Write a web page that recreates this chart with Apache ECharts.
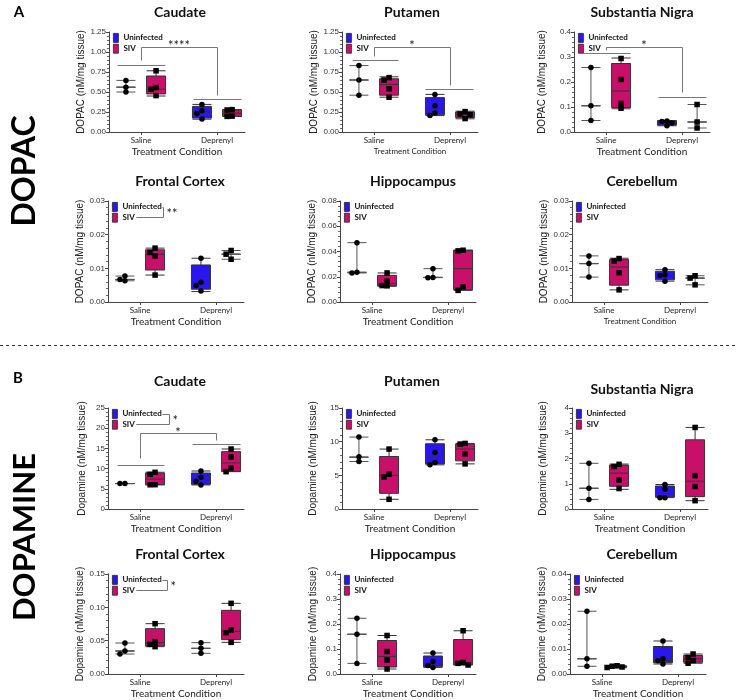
<!DOCTYPE html>
<html><head><meta charset="utf-8">
<script src="https://cdn.jsdelivr.net/npm/echarts@6/dist/echarts.min.js"></script>
<style>html,body{margin:0;padding:0;background:#fff}#c{width:736px;height:700px}</style>
</head><body><div id="c"></div>
<script>
// ---------- categories / labels ----------
const categories = ['Saline', 'Deprenyl'];
const groupNames = ['Uninfected', 'SIV'];
const xAxisTitle = 'Treatment Condition';
const yNameDopac = 'DOPAC (nM/mg tissue)';
const yNameDa = 'Dopamine (nM/mg tissue)';

// ---------- tick labels ----------
const ticksDopacCaud = ['0.00', '0.25', '0.50', '0.75', '1.00', '1.25'];
const ticksDopacSN = ['0.0', '0.1', '0.2', '0.3', '0.4'];
const ticksDopacFC = ['0.00', '0.01', '0.02', '0.03'];
const ticksDopacHip = ['0.00', '0.02', '0.04', '0.06', '0.08'];
const ticksDaCaud = ['0', '5', '10', '15', '20', '25'];
const ticksDaPut = ['0', '5', '10', '15'];
const ticksDaSN = ['0', '1', '2', '3', '4'];
const ticksDaFC = ['0.00', '0.05', '0.10', '0.15'];
const ticksDaHip = ['0.0', '0.1', '0.2', '0.3', '0.4'];
const ticksDaCer = ['0.00', '0.01', '0.02', '0.03', '0.04'];

// ---------- box stats [min, Q1, median, Q3, max] per category (Saline, Deprenyl) and points ----------
// DOPAC Caudate
const dCaudBoxU = [[0.50, 0.56, 0.56, 0.56, 0.645], [0.16, 0.174, 0.25, 0.32, 0.345]];
const dCaudBoxS = [[0.45, 0.476, 0.535, 0.70, 0.765], [0.195, 0.197, 0.236, 0.277, 0.28]];
const dCaudPtsU = [[0.645, 0.56, 0.50], [0.345, 0.265, 0.232, 0.161]];
const dCaudPtsS = [[0.765, 0.555, 0.534, 0.455], [0.28, 0.275, 0.198, 0.195]];
// DOPAC Putamen
const dPutBoxU = [[0.46, 0.65, 0.65, 0.65, 0.83], [0.205, 0.215, 0.285, 0.43, 0.47]];
const dPutBoxS = [[0.435, 0.46, 0.595, 0.665, 0.69], [0.165, 0.18, 0.22, 0.25, 0.26]];
const dPutPtsU = [[0.83, 0.65, 0.46], [0.468, 0.327, 0.236, 0.207]];
const dPutPtsS = [[0.68, 0.65, 0.54, 0.435], [0.255, 0.225, 0.215, 0.168]];
// DOPAC Substantia Nigra
const dSNBoxU = [[0.046, 0.105, 0.105, 0.105, 0.258], [0.025, 0.028, 0.036, 0.045, 0.046]];
const dSNBoxS = [[0.093, 0.098, 0.164, 0.274, 0.296], [0.016, 0.04, 0.04, 0.04, 0.11]];
const dSNPtsU = [[0.258, 0.105, 0.046], [0.044, 0.042, 0.036, 0.025]];
const dSNPtsS = [[0.294, 0.21, 0.114, 0.095], [0.11, 0.04, 0.016]];
// DOPAC Frontal Cortex
const dFCBoxU = [[0.0063, 0.0067, 0.0067, 0.0067, 0.0077], [0.0031, 0.0038, 0.0055, 0.011, 0.013]];
const dFCBoxS = [[0.008, 0.0095, 0.0142, 0.0155, 0.016], [0.0127, 0.0142, 0.0142, 0.0142, 0.0153]];
const dFCPtsU = [[0.0077, 0.0067, 0.0063], [0.013, 0.0059, 0.0049, 0.0033]];
const dFCPtsS = [[0.016, 0.0147, 0.0137, 0.008], [0.0153, 0.0142, 0.0127]];
// DOPAC Hippocampus
const dHipBoxU = [[0.023, 0.0235, 0.0235, 0.0235, 0.047], [0.0193, 0.0195, 0.0195, 0.0195, 0.0264]];
const dHipBoxS = [[0.0125, 0.0127, 0.0145, 0.0211, 0.023], [0.0092, 0.0098, 0.0264, 0.041, 0.041]];
const dHipPtsU = [[0.047, 0.0235, 0.023], [0.0264, 0.0195, 0.0193]];
const dHipPtsS = [[0.023, 0.0165, 0.013, 0.0128], [0.041, 0.0405, 0.012, 0.0092]];
// DOPAC Cerebellum
const dCerBoxU = [[0.0074, 0.0114, 0.0114, 0.0114, 0.0137], [0.0062, 0.0066, 0.0079, 0.0091, 0.0096]];
const dCerBoxS = [[0.0036, 0.005, 0.0104, 0.0126, 0.013], [0.0051, 0.0071, 0.0071, 0.0071, 0.0078]];
const dCerPtsU = [[0.0137, 0.0114, 0.0074], [0.0096, 0.0081, 0.0079, 0.0062]];
const dCerPtsS = [[0.0129, 0.0122, 0.0087, 0.0036], [0.0078, 0.0071, 0.0051]];
// Dopamine Caudate
const aCaudBoxU = [[6.3, 6.3, 6.3, 6.3, 6.3], [5.95, 6.1, 7.35, 8.9, 9.4]];
const aCaudBoxS = [[6.0, 6.0, 7.4, 8.9, 9.1], [9.24, 9.3, 11.4, 14.2, 14.85]];
const aCaudPtsU = [[6.3, 6.3], [9.4, 7.85, 6.85, 5.95]];
const aCaudPtsS = [[9.08, 8.58, 6.02, 6.0], [14.85, 12.87, 10.15, 9.24]];
// Dopamine Putamen
const aPutBoxU = [[7.05, 7.7, 7.7, 7.7, 10.68], [6.56, 6.7, 7.7, 9.69, 10.28]];
const aPutBoxS = [[1.44, 2.33, 5.0, 7.8, 8.9], [6.7, 7.15, 8.9, 9.64, 9.74]];
const aPutPtsU = [[10.68, 7.75, 7.05], [10.28, 8.4, 6.9, 6.56]];
const aPutPtsS = [[8.9, 5.17, 4.77, 1.44], [9.74, 9.64, 8.2, 6.7]];
// Dopamine Substantia Nigra
const aSNBoxU = [[0.38, 0.82, 0.82, 0.82, 1.81], [0.45, 0.48, 0.62, 0.91, 0.97]];
const aSNBoxS = [[0.78, 0.9, 1.42, 1.74, 1.78], [0.33, 0.49, 1.1, 2.74, 3.23]];
const aSNPtsU = [[1.81, 0.82, 0.38], [0.97, 0.78, 0.45, 0.45]];
const aSNPtsS = [[1.77, 1.68, 1.15, 0.81], [3.23, 1.32, 0.89, 0.33]];
// Dopamine Frontal Cortex
const aFCBoxU = [[0.030, 0.0345, 0.0345, 0.0345, 0.0465], [0.031, 0.0385, 0.0385, 0.0385, 0.047]];
const aFCBoxS = [[0.041, 0.042, 0.047, 0.068, 0.0755], [0.0475, 0.0515, 0.064, 0.0955, 0.106]];
const aFCPtsU = [[0.0465, 0.0345, 0.030], [0.047, 0.0385, 0.031]];
const aFCPtsS = [[0.0755, 0.0485, 0.0445, 0.041], [0.106, 0.066, 0.062, 0.0475]];
// Dopamine Hippocampus
const aHipBoxU = [[0.0425, 0.159, 0.159, 0.159, 0.223], [0.0265, 0.029, 0.04, 0.072, 0.084]];
const aHipBoxS = [[0.02, 0.028, 0.0705, 0.134, 0.154], [0.036, 0.037, 0.045, 0.138, 0.173]];
const aHipPtsU = [[0.223, 0.159, 0.0425], [0.084, 0.0505, 0.0345, 0.0265]];
const aHipPtsS = [[0.154, 0.09, 0.056, 0.02], [0.173, 0.0465, 0.0425, 0.036]];
// Dopamine Cerebellum
const aCerBoxU = [[0.0031, 0.0061, 0.0061, 0.0061, 0.0251], [0.004, 0.0045, 0.0054, 0.011, 0.0132]];
const aCerBoxS = [[0.0025, 0.0027, 0.0029, 0.0032, 0.0033], [0.0043, 0.0047, 0.0061, 0.0074, 0.008]];
const aCerPtsU = [[0.0251, 0.0061, 0.0031], [0.0132, 0.0061, 0.0053, 0.004]];
const aCerPtsS = [[0.0033, 0.0031, 0.0028, 0.0026], [0.008, 0.0066, 0.0054, 0.0043]];

// ---------- significance annotations (data units: Saline = 1, Deprenyl = 2) ----------
const sigCaudDopac = { lines: [[[0.68, 0.836], [1.32, 0.836]], [[1.68, 0.41], [2.32, 0.41]], [[1, 0.90], [1, 1.064], [2, 1.064], [2, 0.46]]], star: [1.5, 1.064, '****'] };
const sigPutDopac = { lines: [[[0.71, 0.906], [1.32, 0.906]], [[1.67, 0.538], [2.30, 0.538]], [[1, 0.95], [1, 1.064], [2, 1.064], [2, 0.588]]], star: [1.5, 1.064, '*'] };
const sigSNDopac = { lines: [[[0.70, 0.317], [1.32, 0.317]], [[1.68, 0.142], [2.32, 0.142]], [[1, 0.327], [1, 0.34], [2, 0.34], [2, 0.159]]], star: [1.5, 0.34, '*'] };
const sigCaudDa = { lines: [[[0.70, 10.97], [1.32, 10.97]], [[1.68, 16.0], [2.32, 16.0]], [[1, 12.6], [1, 18.7], [2, 18.7], [2, 17.2]]], star: [1.5, 18.7, '*'] };

// ---------- style ----------
const BLUE = '#2a17ef';
const MAGENTA = '#c8106b';
const L = 136;                 // plot width px
const XMIN = 0.579, XMAX = 2.368;

const panels = [
  { title: 'Caudate', tx: 180, ty: 12, x0: 109, top: 32, h: 100, yName: yNameDopac, ticks: ticksDopacCaud, bu: dCaudBoxU, bs: dCaudBoxS, pu: dCaudPtsU, ps: dCaudPtsS, tc: 10, ng: 22, sig: sigCaudDopac },
  { title: 'Putamen', tx: 412, ty: 12, x0: 342, top: 32, h: 100, yName: yNameDopac, ticks: ticksDopacCaud, bu: dPutBoxU, bs: dPutBoxS, pu: dPutPtsU, ps: dPutPtsS, tc: 8, ng: 22, sig: sigPutDopac },
  { title: 'Substantia Nigra', tx: 642, ty: 12, x0: 574, top: 32, h: 100, yName: yNameDopac, ticks: ticksDopacSN, bu: dSNBoxU, bs: dSNBoxS, pu: dSNPtsU, ps: dSNPtsS, tc: 10, ng: 27, sig: sigSNDopac },
  { title: 'Frontal Cortex', tx: 180, ty: 181, x0: 108, top: 201, h: 101, yName: yNameDopac, ticks: ticksDopacFC, bu: dFCBoxU, bs: dFCBoxS, pu: dFCPtsU, ps: dFCPtsS, tc: 10, ng: 21, leg: { star: '**', gap: 2 } },
  { title: 'Hippocampus', tx: 413, ty: 181, x0: 340, top: 201, h: 101, yName: yNameDopac, ticks: ticksDopacHip, bu: dHipBoxU, bs: dHipBoxS, pu: dHipPtsU, ps: dHipPtsS, tc: 10, ng: 22 },
  { title: 'Cerebellum', tx: 642, ty: 181, x0: 572, top: 201, h: 101, yName: yNameDopac, ticks: ticksDopacFC, bu: dCerBoxU, bs: dCerBoxS, pu: dCerPtsU, ps: dCerPtsS, tc: 8, ng: 22 },
  { title: 'Caudate', tx: 180, ty: 381, x0: 108, top: 408, h: 101, yName: yNameDa, ticks: ticksDaCaud, bu: aCaudBoxU, bs: aCaudBoxS, pu: aCaudPtsU, ps: aCaudPtsS, tc: 10, ng: 21, sig: sigCaudDa, leg: { star: '*', gap: 8 } },
  { title: 'Putamen', tx: 412, ty: 381, x0: 342, top: 408, h: 101, yName: yNameDa, ticks: ticksDaPut, bu: aPutBoxU, bs: aPutBoxS, pu: aPutPtsU, ps: aPutPtsS, tc: 10, ng: 24 },
  { title: 'Substantia Nigra', tx: 642, ty: 389, x0: 572, top: 408, h: 101, yName: yNameDa, ticks: ticksDaSN, bu: aSNBoxU, bs: aSNBoxS, pu: aSNPtsU, ps: aSNPtsS, tc: 10, ng: 24 },
  { title: 'Frontal Cortex', tx: 180, ty: 554, x0: 108, top: 574, h: 100, yName: yNameDa, ticks: ticksDaFC, bu: aFCBoxU, bs: aFCBoxS, pu: aFCPtsU, ps: aFCPtsS, tc: 10, ng: 21, leg: { star: '*', gap: 6 } },
  { title: 'Hippocampus', tx: 413, ty: 554, x0: 340, top: 574, h: 100, yName: yNameDa, ticks: ticksDaHip, bu: aHipBoxU, bs: aHipBoxS, pu: aHipPtsU, ps: aHipPtsS, tc: 10, ng: 22 },
  { title: 'Cerebellum', tx: 642, ty: 554, x0: 570, top: 574, h: 100, yName: yNameDa, ticks: ticksDaCer, bu: aCerBoxU, bs: aCerBoxS, pu: aCerPtsU, ps: aCerPtsS, tc: 10, ng: 22 }
];

// box offset used by ECharts boxplot layout for 2 series on a value axis
const bandPx = L / 2;
const avail = bandPx * 0.8 - 2;
const offPx = 0.2875 * avail;
const unitPx = L / (XMAX - XMIN);
const offU = offPx / unitPx;

function swarm(vals, ymax, H) {
  const placed = [], out = [];
  vals.forEach(v => {
    const py = v / ymax * H;
    let dx = 0;
    for (const c of [0, -1, 1, -2, 2]) {
      const x = c * 5;
      if (placed.every(p => Math.hypot(p[0] - x, p[1] - py) >= 4.6)) { dx = x; break; }
    }
    placed.push([dx, py]); out.push(dx);
  });
  return out;
}

const grids = [], xAxes = [], yAxes = [], series = [], legends = [];
panels.forEach((p, i) => {
  const ymax = parseFloat(p.ticks[p.ticks.length - 1]);
  const step = parseFloat(p.ticks[1]);
  grids.push({ left: p.x0, top: p.top, width: L, height: p.h, outerBoundsMode: 'none', containLabel: false });
  xAxes.push({
    type: 'value', gridIndex: i, min: XMIN, max: XMAX,
    splitLine: { show: false },
    axisLine: { show: true, onZero: false, lineStyle: { color: '#444', width: 1 } },
    axisTick: { show: true, customValues: [1, 2], length: 3, lineStyle: { color: '#444' } },
    axisLabel: { show: true, customValues: [1, 2], formatter: v => categories[Math.round(v) - 1] || '', fontSize: 8, color: '#222', margin: 4, fontFamily: 'Lato' },
    name: xAxisTitle, nameLocation: 'middle', nameGap: 15,
    nameTextStyle: { fontSize: p.tc, fontFamily: 'Lato', color: '#222' }
  });
  yAxes.push({
    type: 'value', gridIndex: i, min: 0, max: ymax, interval: step,
    splitLine: { show: false },
    axisLine: { show: true, onZero: false, lineStyle: { color: '#444', width: 1 } },
    axisTick: { show: true, length: 3, lineStyle: { color: '#444' } },
    minorTick: { show: true, splitNumber: 5, length: 2, lineStyle: { color: '#666' } },
    axisLabel: { formatter: v => p.ticks[Math.round(v / step)] || '', fontSize: 8, color: '#333', margin: 3, fontFamily: 'Liberation Sans' },
    name: p.yName, nameLocation: 'middle', nameGap: p.ng,
    nameTextStyle: { fontSize: 10, fontFamily: 'Liberation Sans', color: '#222' }
  });
  const mkBox = (boxes, pts) => boxes.map((b, k) => {
    const item = { value: [k + 1].concat(b) };
    if (pts[k].length <= 3) item.itemStyle = { color: 'rgba(0,0,0,0)', borderColor: '#555' };
    return item;
  });
  series.push({
    type: 'boxplot', name: groupNames[0], xAxisIndex: i, yAxisIndex: i, boxWidth: [8, 19],
    itemStyle: { color: BLUE, borderColor: '#333', borderWidth: 1 },
    emphasis: { disabled: true }, data: mkBox(p.bu, p.pu)
  });
  series.push({
    type: 'boxplot', name: groupNames[1], xAxisIndex: i, yAxisIndex: i, boxWidth: [8, 19],
    itemStyle: { color: MAGENTA, borderColor: '#333', borderWidth: 1 },
    emphasis: { disabled: true }, data: mkBox(p.bs, p.ps)
  });
  const mkPts = (pts, sign) => {
    const out = [];
    pts.forEach((vals, k) => {
      const dxs = swarm(vals, ymax, p.h);
      vals.forEach((v, j) => out.push([k + 1 + sign * offU + dxs[j] / unitPx, v]));
    });
    return out;
  };
  series.push({ type: 'scatter', name: 'Uninfected points', xAxisIndex: i, yAxisIndex: i, symbol: 'circle', symbolSize: 5.5, itemStyle: { color: '#000', opacity: 1 }, z: 5, silent: true, data: mkPts(p.pu, -1) });
  series.push({ type: 'scatter', name: 'SIV points', xAxisIndex: i, yAxisIndex: i, symbol: 'rect', symbolSize: 5.5, itemStyle: { color: '#000', opacity: 1 }, z: 5, silent: true, data: mkPts(p.ps, 1) });
  legends.push({
    left: p.x0 + 4, top: p.top + 1, orient: 'vertical',
    data: [
      { name: groupNames[0], icon: 'rect', itemStyle: { color: BLUE, borderColor: '#222', borderWidth: 0.8 } },
      { name: groupNames[1], icon: 'rect', itemStyle: { color: MAGENTA, borderColor: '#222', borderWidth: 0.8 } }
    ],
    itemWidth: 5, itemHeight: 9, itemGap: 1, padding: 0, selectedMode: false,
    textStyle: { fontSize: 8, fontWeight: 'bold', fontFamily: 'Lato', color: '#111' }
  });
});

const chart = echarts.init(document.getElementById('c'), null, { renderer: 'canvas' });
chart.setOption({
  animation: false, backgroundColor: '#fff',
  grid: grids, xAxis: xAxes, yAxis: yAxes, series: series, legend: legends
});

// ---------- annotations ----------
const g = [];
g.push({ type: 'text', x: 19, y: 12, style: { text: 'A', font: 'bold 15px Lato', fill: '#000', align: 'center', verticalAlign: 'middle' } });
g.push({ type: 'text', x: 18, y: 378, style: { text: 'B', font: 'bold 15px Lato', fill: '#000', align: 'center', verticalAlign: 'middle' } });
g.push({ type: 'text', x: 25, y: 171, rotation: Math.PI / 2, style: { text: 'DOPAC', font: 'bold 32px Lato', fill: '#000', align: 'center', verticalAlign: 'middle' } });
g.push({ type: 'text', x: 25, y: 537, rotation: Math.PI / 2, style: { text: 'DOPAMINE', font: 'bold 31px Lato', fill: '#000', align: 'center', verticalAlign: 'middle' } });
g.push({ type: 'line', shape: { x1: 0, y1: 345.5, x2: 736, y2: 345.5 }, style: { stroke: '#333', lineWidth: 1, lineDash: [3, 3] } });

const ctx = document.createElement('canvas').getContext('2d');
ctx.font = 'bold 8px Lato';
const wU = ctx.measureText(groupNames[0]).width;
const wS = ctx.measureText(groupNames[1]).width;

panels.forEach((p, i) => {
  g.push({ type: 'text', x: p.tx, y: p.ty, style: { text: p.title, font: 'bold 14px Lato', fill: '#111', align: 'center', verticalAlign: 'middle' } });
  const px = xy => chart.convertToPixel({ gridIndex: i }, xy);
  if (p.sig) {
    p.sig.lines.forEach(seg => {
      g.push({ type: 'polyline', shape: { points: seg.map(px).map(q => [Math.round(q[0]) + 0.5, Math.round(q[1]) + 0.5]) }, style: { stroke: '#777', lineWidth: 1, fill: null } });
    });
    const s = px([p.sig.star[0], p.sig.star[1]]);
    g.push({ type: 'text', x: s[0], y: s[1] - 1, style: { text: p.sig.star[2], font: '13px Lato', fill: '#222', align: 'center', verticalAlign: 'middle' } });
  }
  if (p.leg) {
    const textX = p.x0 + 4 + 5 + 5;
    const yU = Math.round(p.top + 1 + 4.5) + 0.5;
    const yS = Math.round(p.top + 1 + 10 + 4.5) + 0.5;
    const vx = Math.round(textX + wU + p.leg.gap) + 0.5;
    g.push({ type: 'polyline', shape: { points: [[textX + wU + 1, yU], [vx, yU], [vx, yS], [textX + wS + 2, yS]] }, style: { stroke: '#777', lineWidth: 1, fill: null } });
    g.push({ type: 'text', x: vx + 3, y: (yU + yS) / 2 + 1, style: { text: p.leg.star, font: '13px Lato', fill: '#222', align: 'left', verticalAlign: 'middle' } });
  }
});
chart.setOption({ graphic: g });
</script>
</body></html>
